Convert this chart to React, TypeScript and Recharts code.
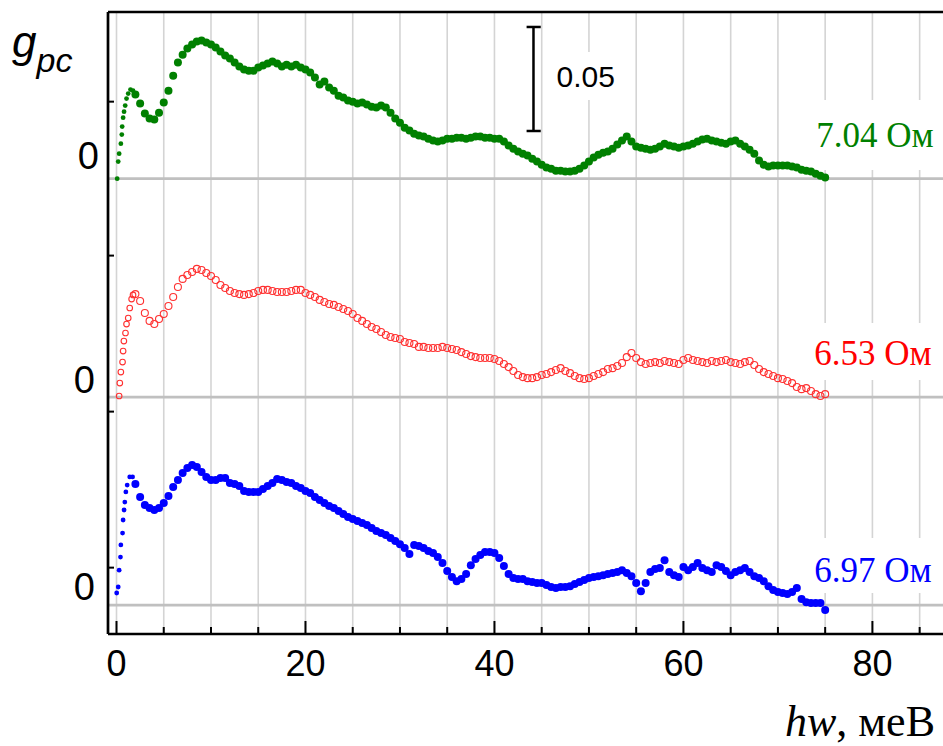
import React from "react";
import {
  ScatterChart,
  Scatter,
  XAxis,
  YAxis,
  CartesianGrid,
  ReferenceLine,
  ReferenceDot,
  ReferenceArea,
} from "recharts";

// photon energy grid, meV (shared by all three curves from 2 meV on)
const energy = [
  2, 2.5, 3, 3.5, 4, 4.5, 5, 5.5, 6, 6.5,
  7, 7.5, 8, 8.5, 9, 9.5, 10, 10.5, 11, 11.5,
  12, 12.5, 13, 13.5, 14, 14.5, 15, 15.5, 16, 16.5,
  17, 17.5, 18, 18.5, 19, 19.5, 20, 20.5, 21, 21.5,
  22, 22.5, 23, 23.5, 24, 24.5, 25, 25.5, 26, 26.5,
  27, 27.5, 28, 28.5, 29, 29.5, 30, 30.5, 31, 31.5,
  32, 32.5, 33, 33.5, 34, 34.5, 35, 35.5, 36, 36.5,
  37, 37.5, 38, 38.5, 39, 39.5, 40, 40.5, 41, 41.5,
  42, 42.5, 43, 43.5, 44, 44.5, 45, 45.5, 46, 46.5,
  47, 47.5, 48, 48.5, 49, 49.5, 50, 50.5, 51, 51.5,
  52, 52.5, 53, 53.5, 54, 54.5, 55, 55.5, 56, 56.5,
  57, 57.5, 58, 58.5, 59, 59.5, 60, 60.5, 61, 61.5,
  62, 62.5, 63, 63.5, 64, 64.5, 65, 65.5, 66, 66.5,
  67, 67.5, 68, 68.5, 69, 69.5, 70, 70.5, 71, 71.5,
  72, 72.5, 73, 73.5, 74, 74.5, 75,
];

// 7.04 Ohm (green)
const greenStartX = [0.07, 0.18, 0.28, 0.46, 0.56, 0.6, 0.7, 0.8, 0.92, 1.06, 1.24, 1.48, 1.75];
const greenStartY = [0, 0.0082, 0.012, 0.0168, 0.0212, 0.025, 0.0293, 0.0322, 0.0351, 0.0385, 0.0409, 0.0428, 0.0423];
const greenY = [
  0.0404, 0.0361, 0.0313, 0.0289, 0.0284, 0.0317, 0.0366, 0.0423, 0.0495, 0.0558,
  0.0596, 0.0625, 0.0645, 0.0659, 0.0664, 0.0654, 0.0645, 0.063, 0.0611, 0.0592,
  0.0577, 0.0558, 0.0539, 0.0524, 0.0519, 0.0519, 0.0534, 0.0544, 0.0553, 0.0563,
  0.0553, 0.0539, 0.0548, 0.0539, 0.0548, 0.0534, 0.0524, 0.051, 0.0486, 0.0452,
  0.0467, 0.0438, 0.0423, 0.0399, 0.039, 0.0375, 0.037, 0.0361, 0.0366, 0.0356,
  0.0346, 0.0342, 0.0351, 0.0342, 0.0317, 0.0289, 0.0269, 0.0245, 0.0231, 0.0216,
  0.0207, 0.0202, 0.0192, 0.0183, 0.0178, 0.0183, 0.0192, 0.0192, 0.0197, 0.0197,
  0.0192, 0.0197, 0.0202, 0.0202, 0.0197, 0.0197, 0.0192, 0.0192, 0.0178, 0.0159,
  0.0144, 0.013, 0.012, 0.0111, 0.0096, 0.0082, 0.0067, 0.0053, 0.0048, 0.0038,
  0.0038, 0.0034, 0.0034, 0.0038, 0.0048, 0.0063, 0.0082, 0.0101, 0.0115, 0.0125,
  0.013, 0.0144, 0.0164, 0.0183, 0.0202, 0.0178, 0.0154, 0.0149, 0.0144, 0.0139,
  0.0144, 0.0154, 0.0168, 0.0159, 0.0154, 0.0149, 0.0154, 0.0159, 0.0168, 0.0178,
  0.0188, 0.0192, 0.0183, 0.0178, 0.0173, 0.0168, 0.0178, 0.0183, 0.0168, 0.0154,
  0.0139, 0.012, 0.0087, 0.0067, 0.0058, 0.0063, 0.0063, 0.0063, 0.0063, 0.0058,
  0.0053, 0.0043, 0.0038, 0.0034, 0.0024, 0.0014, 0.0005,
];

// 6.53 Ohm (red)
const redStartX = [0.28, 0.35, 0.46, 0.64, 0.7, 0.78, 0.95, 1.06, 1.24, 1.4, 1.6, 1.75];
const redStartY = [0.0005, 0.0067, 0.012, 0.0168, 0.0221, 0.0269, 0.0308, 0.0351, 0.038, 0.0428, 0.0471, 0.0491];
const redY = [
  0.0495, 0.0462, 0.0404, 0.0366, 0.0351, 0.0375, 0.0399, 0.0438, 0.0481, 0.0529,
  0.0568, 0.0587, 0.0601, 0.0616, 0.0611, 0.0596, 0.0582, 0.0563, 0.0539, 0.0524,
  0.051, 0.05, 0.0495, 0.0491, 0.0495, 0.05, 0.051, 0.0515, 0.0515, 0.051,
  0.0505, 0.0505, 0.0505, 0.051, 0.0515, 0.0515, 0.05, 0.0491, 0.0481, 0.0467,
  0.0457, 0.0447, 0.0443, 0.0433, 0.0423, 0.0414, 0.0399, 0.038, 0.0366, 0.0351,
  0.0337, 0.0327, 0.0313, 0.0298, 0.0289, 0.0284, 0.0279, 0.0265, 0.026, 0.0255,
  0.0241, 0.0241, 0.0236, 0.0236, 0.0236, 0.0241, 0.0236, 0.0231, 0.0226, 0.0216,
  0.0207, 0.0197, 0.0192, 0.0188, 0.0188, 0.0188, 0.0183, 0.0173, 0.0159, 0.0144,
  0.0125, 0.0106, 0.0096, 0.0091, 0.0091, 0.0096, 0.0106, 0.0111, 0.012, 0.013,
  0.0139, 0.0125, 0.0115, 0.0101, 0.0091, 0.0087, 0.0091, 0.0101, 0.0111, 0.012,
  0.0135, 0.0139, 0.0149, 0.0164, 0.0192, 0.0212, 0.0188, 0.0168, 0.0159, 0.0164,
  0.0168, 0.0164, 0.0173, 0.0168, 0.0164, 0.0159, 0.0178, 0.0188, 0.0178, 0.0173,
  0.0168, 0.0164, 0.0173, 0.0168, 0.0173, 0.0178, 0.0168, 0.0164, 0.0159, 0.0168,
  0.0173, 0.0154, 0.0135, 0.012, 0.0111, 0.0101, 0.0091, 0.0087, 0.0077, 0.0067,
  0.0048, 0.0038, 0.0043, 0.0029, 0.0014, 0.0005, 0.0014,
];

// 6.97 Ohm (blue)
const blueStartX = [0.02, 0.18, 0.28, 0.42, 0.46, 0.64, 0.7, 0.8, 0.88, 0.99, 1.13, 1.4, 1.7];
const blueStartY = [0.0058, 0.0087, 0.0168, 0.0231, 0.0289, 0.0346, 0.0409, 0.0457, 0.0495, 0.0544, 0.0577, 0.0616, 0.0616];
const blueY = [
  0.0582, 0.0519, 0.0481, 0.0467, 0.0457, 0.0467, 0.0491, 0.0524, 0.0568, 0.0601,
  0.0635, 0.0659, 0.0673, 0.0664, 0.064, 0.0616, 0.0601, 0.0601, 0.0611, 0.0611,
  0.0587, 0.0582, 0.0572, 0.0548, 0.0544, 0.0544, 0.0544, 0.0558, 0.0572, 0.0587,
  0.0606, 0.0601, 0.0592, 0.0587, 0.0572, 0.0563, 0.0548, 0.0539, 0.0519, 0.0505,
  0.0491, 0.0476, 0.0467, 0.0452, 0.0438, 0.0423, 0.0414, 0.0404, 0.0394, 0.0385,
  0.037, 0.0356, 0.0346, 0.0337, 0.0322, 0.0308, 0.0293, 0.0274, 0.0245, 0.0289,
  0.0284, 0.0274, 0.026, 0.025, 0.0231, 0.0202, 0.0164, 0.0135, 0.0115, 0.0125,
  0.0149, 0.0192, 0.0221, 0.0241, 0.0255, 0.0255, 0.025, 0.0226, 0.0188, 0.0149,
  0.013, 0.0125, 0.0125, 0.0115, 0.0111, 0.0106, 0.0106, 0.0096, 0.0087, 0.0082,
  0.0087, 0.0087, 0.0091, 0.0101, 0.0111, 0.012, 0.013, 0.0135, 0.0139, 0.0144,
  0.0149, 0.0154, 0.0159, 0.0168, 0.0154, 0.0139, 0.0106, 0.0067, 0.0106, 0.0159,
  0.0173, 0.0178, 0.0216, 0.0159, 0.0144, 0.0135, 0.0183, 0.0168, 0.0183, 0.0202,
  0.0178, 0.0168, 0.0159, 0.0192, 0.0183, 0.0164, 0.0144, 0.0159, 0.0168, 0.0178,
  0.0159, 0.0139, 0.013, 0.0115, 0.0091, 0.0072, 0.0063, 0.0058, 0.0053, 0.0063,
  0.0082, 0.0029, 0.0014, 0.001, 0.001, 0.001, -0.0024,
];

// vertical shifts of the curves
const OFFSET_RED = 0.1;
const OFFSET_GREEN = 0.205;

const xTicks = [0, 5, 10, 15, 20, 25, 30, 35, 40, 45, 50, 55, 60, 65, 70, 75, 80, 85];
const yTicks = [0.018, 0.093, 0.168, 0.242];
const X_DOMAIN: [number, number] = [-0.9, 88];
const Y_DOMAIN: [number, number] = [-0.0139, 0.2851];

const startPoints = (xs: number[], ys: number[], offset: number) =>
  xs.map((x, i) => ({ x, y: ys[i] + offset }));
const mainPoints = (ys: number[], offset: number) =>
  energy.map((x, i) => ({ x, y: ys[i] + offset }));

const NARROW = "'Liberation Sans Narrow', 'Liberation Sans', Arial, sans-serif";
const SANS = "'Liberation Sans', Arial, sans-serif";
const SERIF = "'Liberation Serif', 'Times New Roman', serif";

const XTick = (props: any) => {
  const { x, y, payload } = props;
  const major = payload.value % 20 === 0;
  return (
    <g>
      <line x1={x} x2={x} y1={y} y2={y - (major ? 13 : 7)} stroke="#000" strokeWidth={2} />
      {major && (
        <text x={x} y={y + 42} textAnchor="middle" fontFamily={NARROW} fontSize={36} fill="#000">
          {payload.value}
        </text>
      )}
    </g>
  );
};

const YTick = (props: any) => {
  const { x, y } = props;
  return <line x1={x} x2={x + 6} y1={y} y2={y} stroke="#000" strokeWidth={2} />;
};

const zeroLabel = (dx: number, dy: number) => (props: any) => {
  const vb = props.viewBox || {};
  return (
    <text x={vb.x - dx} y={vb.y - dy} textAnchor="end" fontFamily={NARROW} fontSize={38} fill="#000">
      0
    </text>
  );
};

const textLabel = (text: string, color: string, font: string, size: number) => (props: any) => {
  const vb = props.viewBox || {};
  return (
    <text x={vb.x} y={vb.y} fill={color} fontFamily={font} fontSize={size}>
      {text}
    </text>
  );
};

const yTitle = (props: any) => {
  const vb = props.viewBox || {};
  return (
    <text x={vb.x + vb.width - 96} y={vb.y + 45} fontFamily={SANS} fontStyle="italic" fill="#000">
      <tspan fontSize={44}>g</tspan>
      <tspan fontSize={34} dy={15}>pc</tspan>
    </text>
  );
};

const xTitle = (props: any) => {
  const vb = props.viewBox || {};
  return (
    <text x={vb.x + vb.width - 13} y={vb.y + 102} textAnchor="end" fontFamily={SERIF} fontSize={44} fill="#000">
      <tspan fontStyle="italic">hw</tspan>
      <tspan>, меВ</tspan>
    </text>
  );
};

const dot = (color: string, r: number) => (p: any) => <circle cx={p.cx} cy={p.cy} r={r} fill={color} />;
const ring = (r: number) => (p: any) => (
  <circle cx={p.cx} cy={p.cy} r={r} fill="none" stroke="#ff3030" strokeWidth={1.1} />
);

export default function App() {
  return (
    <div
      style={{
        position: "absolute",
        left: 0,
        top: 0,
        width: 943,
        height: 746,
        overflow: "hidden",
        background: "#fff",
      }}
    >
      <ScatterChart width={960} height={746} margin={{ top: 12, right: 12, bottom: 72, left: 68 }}>
        <CartesianGrid horizontal={false} stroke="#d4d4d4" strokeWidth={1.6} />
        <XAxis
          type="number"
          dataKey="x"
          domain={X_DOMAIN}
          allowDataOverflow
          ticks={xTicks}
          interval={0}
          height={40}
          tickSize={0}
          tickMargin={0}
          tickLine={false}
          tick={<XTick />}
          axisLine={{ stroke: "#000", strokeWidth: 2.7 }}
          label={xTitle}
        />
        <YAxis
          type="number"
          dataKey="y"
          domain={Y_DOMAIN}
          allowDataOverflow
          ticks={yTicks}
          interval={0}
          width={40}
          tickSize={0}
          tickMargin={0}
          tickLine={false}
          tick={<YTick />}
          axisLine={{ stroke: "#000", strokeWidth: 2.7 }}
          label={yTitle}
        />

        {/* white boxes behind the annotations */}
        <ReferenceArea x1={72.3} x2={88} y1={0.2091} y2={0.2428} fill="#fff" fillOpacity={1} stroke="none" />
        <ReferenceArea x1={72.3} x2={88} y1={0.1082} y2={0.1356} fill="#fff" fillOpacity={1} stroke="none" />
        <ReferenceArea x1={72.3} x2={88} y1={0.0058} y2={0.0322} fill="#fff" fillOpacity={1} stroke="none" />
        <ReferenceArea x1={45.7} x2={53.2} y1={0.2428} y2={0.2659} fill="#fff" fillOpacity={1} stroke="none" />

        {/* zero baselines */}
        <ReferenceLine y={0} stroke="#c0c0c0" strokeWidth={2.8} label={zeroLabel(13, 5)} />
        <ReferenceLine y={OFFSET_RED} stroke="#c0c0c0" strokeWidth={2.8} label={zeroLabel(13, 4)} />
        <ReferenceLine y={OFFSET_GREEN} stroke="#c0c0c0" strokeWidth={2.8} label={zeroLabel(9, 10)} />
        <ReferenceLine y={Y_DOMAIN[1]} stroke="#000" strokeWidth={2.7} />

        {/* 0.05 scale bar */}
        <ReferenceLine segment={[{ x: 44.13, y: 0.2279 }, { x: 44.13, y: 0.2779 }]} stroke="#000" strokeWidth={2.5} />
        <ReferenceLine segment={[{ x: 43.4, y: 0.2279 }, { x: 44.9, y: 0.2279 }]} stroke="#000" strokeWidth={2.5} />
        <ReferenceLine segment={[{ x: 43.4, y: 0.2779 }, { x: 44.9, y: 0.2779 }]} stroke="#000" strokeWidth={2.5} />
        <ReferenceDot x={46.57} y={0.249} r={0} fill="none" stroke="none" label={textLabel("0.05", "#000", SANS, 30)} />

        <Scatter data={startPoints(greenStartX, greenStartY, OFFSET_GREEN)} shape={dot("#008000", 2.4)} isAnimationActive={false} />
        <Scatter data={mainPoints(greenY, OFFSET_GREEN)} shape={dot("#008000", 4)} isAnimationActive={false} />
        <Scatter data={startPoints(redStartX, redStartY, OFFSET_RED)} shape={ring(2.8)} isAnimationActive={false} />
        <Scatter data={mainPoints(redY, OFFSET_RED)} shape={ring(3.5)} isAnimationActive={false} />
        <Scatter data={startPoints(blueStartX, blueStartY, 0)} shape={dot("#0000ff", 2.4)} isAnimationActive={false} />
        <Scatter data={mainPoints(blueY, 0)} shape={dot("#0000ff", 4)} isAnimationActive={false} />

        <ReferenceDot x={74.05} y={OFFSET_GREEN + 0.0152} r={0} fill="none" stroke="none"
          label={textLabel("7.04 Ом", "#008000", SERIF, 35)} />
        <ReferenceDot x={73.84} y={OFFSET_RED + 0.0154} r={0} fill="none" stroke="none"
          label={textLabel("6.53 Ом", "#ff0000", SERIF, 35)} />
        <ReferenceDot x={73.84} y={0.0111} r={0} fill="none" stroke="none"
          label={textLabel("6.97 Ом", "#0000ff", SERIF, 35)} />
      </ScatterChart>
    </div>
  );
}
